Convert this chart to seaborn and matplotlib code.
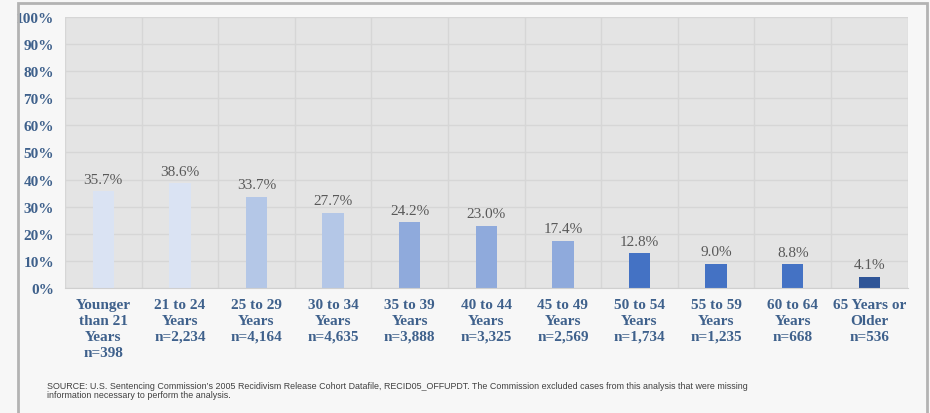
import matplotlib
matplotlib.use("Agg")
import matplotlib.pyplot as plt
import matplotlib.patches as mpatches
import numpy as np
import pandas as pd
import seaborn as sns
from matplotlib.ticker import PercentFormatter, MultipleLocator

# -----------------------------------------------------------------------------
# Data
# -----------------------------------------------------------------------------
categories = [
    "Younger\nthan 21\nYears\nn=398",
    "21 to 24\nYears\nn=2,234",
    "25 to 29\nYears\nn=4,164",
    "30 to 34\nYears\nn=4,635",
    "35 to 39\nYears\nn=3,888",
    "40 to 44\nYears\nn=3,325",
    "45 to 49\nYears\nn=2,569",
    "50 to 54\nYears\nn=1,734",
    "55 to 59\nYears\nn=1,235",
    "60 to 64\nYears\nn=668",
    "65 Years or\nOlder\nn=536",
]
rates = [35.7, 38.6, 33.7, 27.7, 24.2, 23.0, 17.4, 12.8, 9.0, 8.8, 4.1]
bar_colors = [
    "#dae3f3", "#dae3f3",
    "#b4c7e7", "#b4c7e7",
    "#8faadc", "#8faadc", "#8faadc",
    "#4472c4", "#4472c4", "#4472c4",
    "#2f5597",
]
source_text = (
    "SOURCE: U.S. Sentencing Commission\u2019s 2005 Recidivism Release Cohort Datafile, "
    "RECID05_OFFUPDT. The Commission excluded cases from this analysis that were missing\n"
    "information necessary to perform the analysis."
)

df = pd.DataFrame({"group": categories, "rate": rates})

TICK_BLUE = "#3f618c"
LABEL_GRAY = "#595959"
GRID = "#d6d6d6"

sns.set_style("white")
plt.rcParams["font.family"] = ["Liberation Serif", "DejaVu Serif"]

fig = plt.figure(figsize=(9.30, 4.14), dpi=100)
fig.patch.set_facecolor("#f7f7f7")
ax = fig.add_axes([0.0699, 0.302, 0.906, 0.655])
ax.set_facecolor("#e4e4e4")

sns.barplot(
    data=df, x="group", y="rate", hue="group",
    palette=bar_colors, legend=False, width=0.28,
    saturation=1, linewidth=0, ax=ax,
)

for container in ax.containers:
    ax.bar_label(container, fmt="%.1f%%", padding=4, fontsize=11, color=LABEL_GRAY)

ax.set_ylim(0, 100)
ax.set_xlim(-0.5, len(categories) - 0.5)
ax.yaxis.set_major_locator(MultipleLocator(10))
ax.yaxis.set_major_formatter(PercentFormatter(decimals=0))
ax.set_xticks(np.arange(-0.5, len(categories), 1.0), minor=True)
ax.grid(axis="y", which="major", color=GRID, linewidth=1)
ax.grid(axis="x", which="minor", color=GRID, linewidth=1)
ax.set_axisbelow(True)

ax.set_xlabel("")
ax.set_ylabel("")
ax.tick_params(axis="y", length=0, pad=8, labelsize=11, labelcolor=TICK_BLUE)
ax.tick_params(axis="x", which="both", length=0, pad=7, labelsize=11, labelcolor=TICK_BLUE)
for lbl in ax.get_yticklabels() + ax.get_xticklabels():
    lbl.set_fontweight("semibold")
    lbl.set_linespacing(1.3)
for side in ("top", "right", "left"):
    ax.spines[side].set_visible(False)
ax.spines["bottom"].set_color("#cfcfcf")

fig.text(0.05, 0.035, source_text, fontsize=6.4, color="#404040",
         family=["Liberation Sans", "DejaVu Sans"], linespacing=1.0, va="bottom")

# outer frame
frame = mpatches.Rectangle((18 / 930, -0.05), (927 - 18) / 930, 1.05 - 4 / 414,
                           transform=fig.transFigure, fill=False,
                           edgecolor="#b3b3b3", linewidth=2, zorder=10)
fig.patches.append(frame)

fig.savefig("out.png", dpi=100, facecolor=fig.get_facecolor())
